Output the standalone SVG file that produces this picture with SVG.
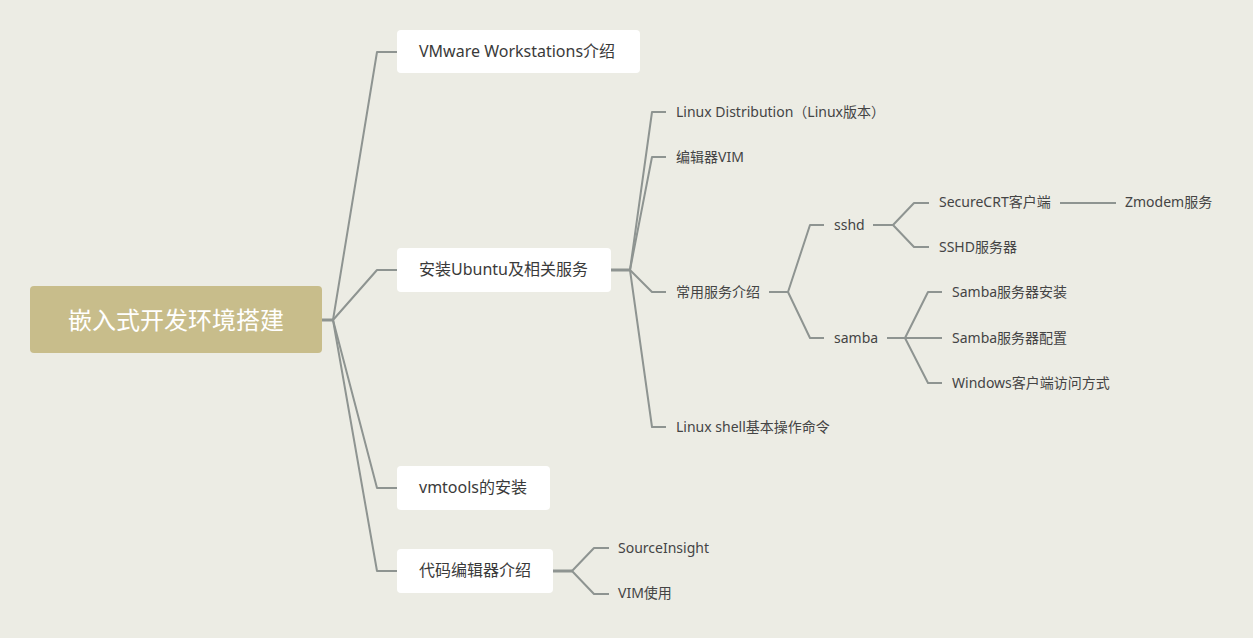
<svg xmlns="http://www.w3.org/2000/svg" width="1253" height="638" viewBox="0 0 1253 638">
<style>
.bg{fill:#ECECE4}
.root{fill:#C8BD8B}
.rt{font-family:"Noto Sans CJK SC","Noto Sans",sans-serif;font-size:24px;fill:#FFFFFF}
.box{fill:#FFFFFF}
.t1{font-family:"Noto Sans","Noto Sans CJK SC",sans-serif;font-size:16px;fill:#3A3A3A}
.t2{font-family:"Noto Sans","Noto Sans CJK SC",sans-serif;font-size:14px;fill:#444444}
.ln{fill:none;stroke:#8E9491;stroke-width:2;stroke-linejoin:round}
.hub{fill:none;stroke:#8E9491;stroke-width:3}
</style>
<rect class="bg" x="0" y="0" width="1253" height="638"/>
<g id="connectors">
  <path class="hub" d="M322 320 H333"/>
  <path class="ln" d="M333 320 L377 52 H397"/>
  <path class="ln" d="M333 320 L377 270 H397"/>
  <path class="ln" d="M333 320 L377 488 H397"/>
  <path class="ln" d="M333 320 L377 571 H397"/>
  <path class="hub" d="M611 270 H630"/>
  <path class="ln" d="M630 270 L652 112 H666"/>
  <path class="ln" d="M630 270 L652 157 H666"/>
  <path class="ln" d="M630 270 L652 292 H666"/>
  <path class="ln" d="M630 270 L652 427 H666"/>
  <path class="ln" d="M769 292 H788"/>
  <path class="ln" d="M788 292 L810 225 H824"/>
  <path class="ln" d="M788 292 L810 338 H824"/>
  <path class="ln" d="M873 225 H893"/>
  <path class="ln" d="M893 225 L914 203 H929"/>
  <path class="ln" d="M893 225 L914 247 H929"/>
  <path class="ln" d="M1060 203 H1116"/>
  <path class="ln" d="M887 338 H905"/>
  <path class="ln" d="M905 338 L928 292 H942"/>
  <path class="ln" d="M905 338 H942"/>
  <path class="ln" d="M905 338 L928 383 H942"/>
  <path class="hub" d="M553 571 H572"/>
  <path class="ln" d="M572 571 L594 548 H609"/>
  <path class="ln" d="M572 571 L594 594 H609"/>
</g>
<g id="root">
  <rect class="root" x="30" y="286" width="292" height="67" rx="4"/>
  <text class="rt" x="176" y="318" text-anchor="middle" dominant-baseline="central">嵌入式开发环境搭建</text>
</g>
<g id="n-vmware">
  <rect class="box" x="397" y="30" width="243" height="43" rx="4"/>
  <text class="t1" x="419" y="51" dominant-baseline="central">VMware Workstations介绍</text>
</g>
<g id="n-ubuntu">
  <rect class="box" x="397" y="248" width="214" height="44" rx="4"/>
  <text class="t1" x="419" y="269" dominant-baseline="central">安装Ubuntu及相关服务</text>
</g>
<g id="n-vmtools">
  <rect class="box" x="397" y="466" width="153" height="44" rx="4"/>
  <text class="t1" x="419" y="487" dominant-baseline="central">vmtools的安装</text>
</g>
<g id="n-editor">
  <rect class="box" x="397" y="549" width="156" height="44" rx="4"/>
  <text class="t1" x="419" y="570" dominant-baseline="central">代码编辑器介绍</text>
</g>
<g id="n-distro"><text class="t2" x="676" y="111" dominant-baseline="central">Linux Distribution（Linux版本）</text></g>
<g id="n-vim"><text class="t2" x="676" y="156" dominant-baseline="central">编辑器VIM</text></g>
<g id="n-services"><text class="t2" x="676" y="291" dominant-baseline="central">常用服务介绍</text></g>
<g id="n-shell"><text class="t2" x="676" y="426" dominant-baseline="central">Linux shell基本操作命令</text></g>
<g id="n-sshd"><text class="t2" x="834" y="224" dominant-baseline="central">sshd</text></g>
<g id="n-samba"><text class="t2" x="834" y="337" dominant-baseline="central">samba</text></g>
<g id="n-securecrt"><text class="t2" x="939" y="201" dominant-baseline="central">SecureCRT客户端</text></g>
<g id="n-sshdserver"><text class="t2" x="939" y="246" dominant-baseline="central">SSHD服务器</text></g>
<g id="n-zmodem"><text class="t2" x="1125" y="201" dominant-baseline="central">Zmodem服务</text></g>
<g id="n-samba-install"><text class="t2" x="952" y="291" dominant-baseline="central">Samba服务器安装</text></g>
<g id="n-samba-config"><text class="t2" x="952" y="337" dominant-baseline="central">Samba服务器配置</text></g>
<g id="n-windows"><text class="t2" x="952" y="382" dominant-baseline="central">Windows客户端访问方式</text></g>
<g id="n-sourceinsight"><text class="t2" x="618" y="547" dominant-baseline="central">SourceInsight</text></g>
<g id="n-vimuse"><text class="t2" x="618" y="592" dominant-baseline="central">VIM使用</text></g>
</svg>
